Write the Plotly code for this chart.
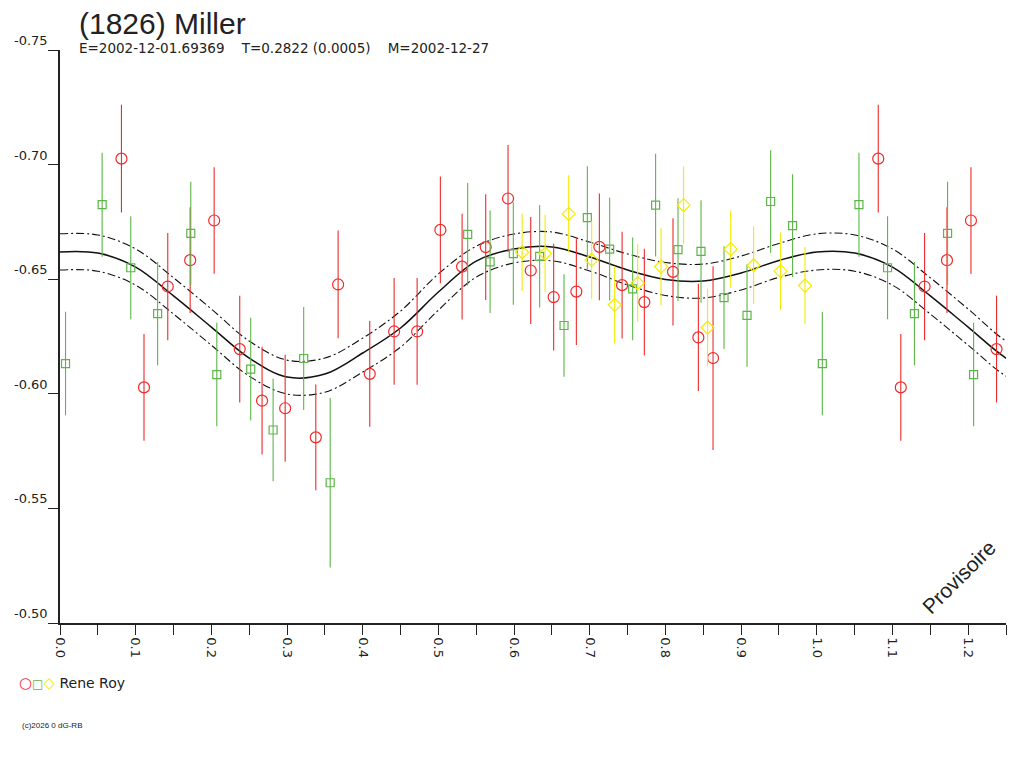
import plotly.graph_objects as go

# ---- data ----
red_phase = [0.0812, 0.111, 0.1424, 0.172, 0.2037, 0.2375, 0.267, 0.2975, 0.338, 0.3675,
             0.4093, 0.4415, 0.4719, 0.5026, 0.5313, 0.5625, 0.592, 0.622, 0.6523, 0.6823,
             0.7127, 0.7427, 0.7721, 0.8100, 0.8435, 0.8629]
red_mag = [-0.7026, -0.6028, -0.6468, -0.6583, -0.6756, -0.6195, -0.5970, -0.5937, -0.5810, -0.6477,
           -0.6087, -0.6272, -0.6272, -0.6715, -0.6555, -0.6640, -0.6852, -0.6538, -0.6422, -0.6446,
           -0.6641, -0.6474, -0.6400, -0.6532, -0.6246, -0.6156]
red_err = [0.0235, 0.0233, 0.0234, 0.0231, 0.0232, 0.0233, 0.0235, 0.0233, 0.0231, 0.0235,
           0.0231, 0.0233, 0.0233, 0.0233, 0.0231, 0.0231, 0.0233, 0.0233, 0.0233, 0.0233,
           0.0233, 0.0233, 0.0233, 0.0234, 0.0234, 0.0401]

green_phase = [0.0073, 0.0557, 0.0935, 0.129, 0.1728, 0.2072, 0.252, 0.2816, 0.322, 0.357,
               0.5387, 0.5683, 0.599, 0.6338, 0.666, 0.6968, 0.7263, 0.7567, 0.787, 0.8166,
               0.847, 0.8774, 0.9078, 0.939, 0.968]
green_mag = [-0.6132, -0.6825, -0.6550, -0.6350, -0.6700, -0.6084, -0.6108, -0.5842, -0.6154, -0.5612,
             -0.6696, -0.6576, -0.6612, -0.6600, -0.6298, -0.6769, -0.6631, -0.6458, -0.6823, -0.6629,
             -0.6621, -0.6420, -0.6342, -0.6839, -0.6734]
green_err = [0.0226, 0.0227, 0.0225, 0.0225, 0.0225, 0.0226, 0.0224, 0.0224, 0.0225, 0.0370,
             0.0224, 0.0224, 0.0224, 0.0224, 0.0224, 0.0224, 0.0224, 0.0224, 0.0224, 0.0224,
             0.0224, 0.0224, 0.0224, 0.0224, 0.0224]

yellow_phase = [0.6106, 0.641, 0.6722, 0.7025, 0.7329, 0.7633, 0.7942, 0.824, 0.8557, 0.8862,
                0.9165, 0.9522, 0.9844]
yellow_mag = [-0.6618, -0.6612, -0.6785, -0.6584, -0.6388, -0.6483, -0.6555, -0.6823, -0.6289, -0.6631,
              -0.6561, -0.6535, -0.6472]
yellow_err = [0.0169, 0.0169, 0.0169, 0.0169, 0.0169, 0.0169, 0.0169, 0.0169, 0.0169, 0.0169,
              0.0169, 0.0169, 0.0169]

fit_phase = [0.0, 0.05, 0.10, 0.15, 0.20, 0.25, 0.30, 0.35, 0.40, 0.45, 0.50,
             0.55, 0.60, 0.65, 0.70, 0.75, 0.80, 0.85, 0.90, 0.95]
fit_mag = [-0.6619, -0.6614, -0.6553, -0.6427, -0.6291, -0.6156, -0.6073, -0.6086, -0.6178, -0.6287, -0.6444,
           -0.6579, -0.6632, -0.6641, -0.6597, -0.6540, -0.6499, -0.6492, -0.6527, -0.6582]
fit_upper = [-0.6698, -0.6693, -0.6632, -0.6506, -0.6370, -0.6230, -0.6147, -0.6156, -0.6243, -0.6361, -0.6523,
             -0.6644, -0.6697, -0.6706, -0.6662, -0.6610, -0.6573, -0.6566, -0.6601, -0.6656]
fit_lower = [-0.6540, -0.6535, -0.6474, -0.6348, -0.6212, -0.6077, -0.5999, -0.6007, -0.6095, -0.6204, -0.6365,
             -0.6509, -0.6571, -0.6580, -0.6536, -0.6475, -0.6429, -0.6418, -0.6453, -0.6508]

x_tick_vals = [i * 0.05 for i in range(26)]
x_tick_text = [("%.1f" % v) if i % 2 == 0 else "" for i, v in enumerate(x_tick_vals)]
y_tick_vals = [-0.75, -0.70, -0.65, -0.60, -0.55, -0.50]
y_tick_text = ["-0.75", "-0.70", "-0.65", "-0.60", "-0.55", "-0.50"]

EXTEND = 0.25  # phases below this are repeated after 1.0


def fold(ph, *cols):
    out_ph = list(ph)
    outs = [list(c) for c in cols]
    for i, p in enumerate(ph):
        if p < EXTEND:
            out_ph.append(p + 1.0)
            for o, c in zip(outs, cols):
                o.append(c[i])
    return (out_ph, *outs)


def fold_curve(ph, vals):
    xs = list(ph) + [p + 1.0 for p in ph if p <= 0.30]
    ys = list(vals) + [v for p, v in zip(ph, vals) if p <= 0.30]
    return xs, ys


RED = "#ee2a2a"
GREEN = "#5cb548"
YELLOW = "#f5ea00"

# page body has an 8px default margin -> offset the figure margins
OFF = 8
L, T = 60 - OFF, 50 - OFF
R = 1024 - 1006 + OFF
B = 768 - 623 + OFF
PW, PH = 1006 - 60, 623 - 50

fig = go.Figure()

for vals, dash, w in [(fit_upper, "8px,3px,2px,3px", 1.1), (fit_lower, "8px,3px,2px,3px", 1.1), (fit_mag, "solid", 1.5)]:
    cx, cy = fold_curve(fit_phase, vals)
    fig.add_trace(go.Scatter(x=cx, y=cy, mode="lines",
                             line=dict(color="#111111", width=w, dash=dash, shape="spline", smoothing=1.0),
                             showlegend=False, hoverinfo="skip"))

for ph, mg, er, col, sym, sz in [
    (red_phase, red_mag, red_err, RED, "circle-open", 11),
    (green_phase, green_mag, green_err, GREEN, "square-open", 8),
    (yellow_phase, yellow_mag, yellow_err, YELLOW, "diamond-open", 10),
]:
    px_, my, ey = fold(ph, mg, er)
    fig.add_trace(go.Scatter(
        x=px_, y=my, mode="markers",
        marker=dict(symbol=sym, size=sz, color=col, line=dict(color=col, width=1.2)),
        error_y=dict(type="data", array=ey, visible=True, color=col, thickness=1.1, width=0),
        showlegend=False, name="Rene Roy"))

fig.update_layout(
    width=1024, height=768,
    margin=dict(l=L, r=R, t=T, b=B, autoexpand=False),
    paper_bgcolor="white", plot_bgcolor="white",
    font=dict(family="Liberation Sans, Arial, sans-serif", color="#222222"),
    showlegend=False,
    xaxis=dict(range=[0, 1.25], tickvals=x_tick_vals, ticktext=x_tick_text, tickangle=90,
               ticks="outside", ticklen=10, tickcolor="#222", showline=True, linecolor="#222", linewidth=1.5,
               showgrid=False, zeroline=False, automargin=False,
               tickfont=dict(size=13, color="#222", family="DejaVu Sans, sans-serif")),
    yaxis=dict(range=[-0.50, -0.75], tickvals=y_tick_vals, ticktext=y_tick_text,
               ticks="outside", ticklen=10, tickcolor="#222", showline=True, linecolor="#222", linewidth=1.5,
               showgrid=False, zeroline=False, ticklabelposition="outside top", automargin=False,
               ticklabelstandoff=8,
               tickfont=dict(size=13, color="#222", family="DejaVu Sans, sans-serif")),
)


def px2paper(x, y):
    return (x - 60) / PW, (623 - y) / PH


ax, ay = px2paper(77, 23)
fig.add_annotation(xref="paper", yref="paper", x=ax, y=ay, xanchor="left", yanchor="middle",
                   text="(1826) Miller", showarrow=False, font=dict(size=30, color="#222"))
ax, ay = px2paper(77, 48)
fig.add_annotation(xref="paper", yref="paper", x=ax, y=ay, xanchor="left", yanchor="middle",
                   text="E=2002-12-01.69369&nbsp;&nbsp;&nbsp;&nbsp;T=0.2822 (0.0005)&nbsp;&nbsp;&nbsp;&nbsp;M=2002-12-27",
                   showarrow=False, font=dict(size=13.5, color="#222", family="DejaVu Sans, sans-serif"))
ax, ay = px2paper(958, 577)
fig.add_annotation(xref="paper", yref="paper", x=ax, y=ay, xanchor="center", yanchor="middle",
                   text="Provisoire", textangle=-45, showarrow=False, font=dict(size=21, color="#222"))
ax, ay = px2paper(17, 683)
fig.add_annotation(xref="paper", yref="paper", x=ax, y=ay, xanchor="left", yanchor="middle",
                   text=("<span style='color:%s;font-size:15px'>○</span><span style='color:%s;font-size:12px'>□</span>"
                         "<span style='color:%s;font-size:15px'>◇</span> Rene Roy" % (RED, GREEN, YELLOW)),
                   showarrow=False, font=dict(size=14, color="#222", family="DejaVu Sans, sans-serif"))
ax, ay = px2paper(20, 725)
fig.add_annotation(xref="paper", yref="paper", x=ax, y=ay, xanchor="left", yanchor="middle",
                   text="(c)2026 0 dG-RB", showarrow=False, font=dict(size=8, color="#222"))

fig.write_html("out.html")
